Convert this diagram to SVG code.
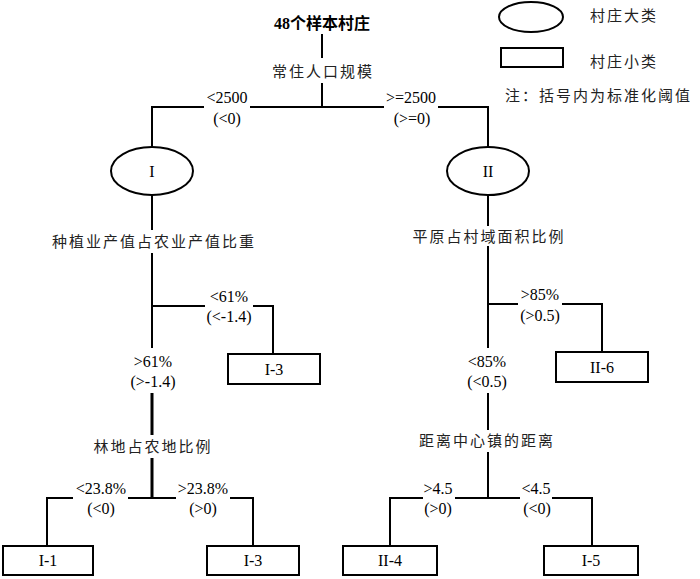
<svg xmlns="http://www.w3.org/2000/svg" width="700" height="579" viewBox="0 0 700 579">
<style>
.ln{stroke:#000;stroke-width:2;fill:none}
.thk{stroke:#000;stroke-width:3;fill:none}
.shp{stroke:#000;stroke-width:2;fill:#fff}
.cn{font-family:"Noto Sans CJK SC","Noto Sans CJK JP",sans-serif;font-size:15px;letter-spacing:2px;fill:#222;text-anchor:middle}
.cl{font-family:"Noto Sans CJK SC","Noto Sans CJK JP",sans-serif;font-size:15px;letter-spacing:2px;fill:#222}
.nm{font-family:"Liberation Serif","Times New Roman",serif;font-size:16px;fill:#000;text-anchor:middle}
.tt{font-family:"Liberation Serif","Noto Sans CJK SC",serif;font-size:16px;font-weight:bold;fill:#000;text-anchor:middle}
</style>
<rect width="700" height="579" fill="#fff"/>
<g id="connectors">
<path class="ln" d="M322,34V58M322,83V107"/>
<path class="ln" d="M152,147V107H204M250,107H384M438,107H488V147"/>
<path class="ln" d="M152,195V230M152,253V348M152,306H205M253,306H273V354"/>
<path class="thk" d="M152,393V435M152,458V498"/>
<path class="ln" d="M47,546V498H73M128,498H176M230,498H253V546"/>
<path class="ln" d="M488,195V226M488,246V348M488,304H518M562,304H602V352"/>
<path class="ln" d="M488,393V430M488,452V498M390,546V498H423M455,498H520M552,498H592V546"/>
</g>
<g id="root"><text class="tt" x="322" y="29">48个样本村庄</text></g>
<g id="split-pop"><text class="cn" x="323" y="77">常住人口规模</text></g>
<g id="lbl-lt2500"><text class="nm" x="227" y="103">&lt;2500</text><text class="nm" x="227" y="124">(&lt;0)</text></g>
<g id="lbl-ge2500"><text class="nm" x="411" y="103">&gt;=2500</text><text class="nm" x="412" y="124">(&gt;=0)</text></g>
<g id="class-I"><ellipse class="shp" cx="152" cy="171" rx="41" ry="24"/><text class="nm" x="152" y="177">I</text></g>
<g id="class-II"><ellipse class="shp" cx="488" cy="171" rx="41" ry="24"/><text class="nm" x="488" y="177">II</text></g>
<g id="split-plant"><text class="cn" x="154" y="247">种植业产值占农业产值比重</text></g>
<g id="lbl-lt61"><text class="nm" x="229" y="302">&lt;61%</text><text class="nm" x="229" y="322">(&lt;-1.4)</text></g>
<g id="lbl-gt61"><text class="nm" x="153" y="367">&gt;61%</text><text class="nm" x="153" y="387">(&gt;-1.4)</text></g>
<g id="leaf-I-3a"><rect class="shp" x="228" y="354" width="92" height="30"/><text class="nm" x="274" y="375">I-3</text></g>
<g id="split-forest"><text class="cn" x="153" y="452">林地占农地比例</text></g>
<g id="lbl-lt238"><text class="nm" x="101" y="494">&lt;23.8%</text><text class="nm" x="101" y="514">(&lt;0)</text></g>
<g id="lbl-gt238"><text class="nm" x="203" y="494">&gt;23.8%</text><text class="nm" x="203" y="514">(&gt;0)</text></g>
<g id="leaf-I-1"><rect class="shp" x="3" y="546" width="90" height="29"/><text class="nm" x="48" y="566">I-1</text></g>
<g id="leaf-I-3b"><rect class="shp" x="207" y="546" width="92" height="29"/><text class="nm" x="253" y="566">I-3</text></g>
<g id="split-plain"><text class="cn" x="489" y="242">平原占村域面积比例</text></g>
<g id="lbl-gt85"><text class="nm" x="540" y="300">&gt;85%</text><text class="nm" x="540" y="321">(&gt;0.5)</text></g>
<g id="lbl-lt85"><text class="nm" x="487" y="367">&lt;85%</text><text class="nm" x="487" y="387">(&lt;0.5)</text></g>
<g id="leaf-II-6"><rect class="shp" x="556" y="352" width="92" height="30"/><text class="nm" x="602" y="373">II-6</text></g>
<g id="split-dist"><text class="cn" x="487" y="446">距离中心镇的距离</text></g>
<g id="lbl-gt45"><text class="nm" x="438" y="494">&gt;4.5</text><text class="nm" x="438" y="514">(&gt;0)</text></g>
<g id="lbl-lt45"><text class="nm" x="536" y="494">&lt;4.5</text><text class="nm" x="537" y="514">(&lt;0)</text></g>
<g id="leaf-II-4"><rect class="shp" x="343" y="546" width="94" height="29"/><text class="nm" x="390" y="566">II-4</text></g>
<g id="leaf-I-5"><rect class="shp" x="544" y="546" width="94" height="29"/><text class="nm" x="591" y="566">I-5</text></g>
<g id="legend">
<ellipse class="shp" cx="531" cy="17" rx="32" ry="15"/>
<text class="cl" x="590" y="21">村庄大类</text>
<rect class="shp" x="501" y="48" width="62" height="19"/>
<text class="cl" x="590" y="67">村庄小类</text>
<text class="cl" x="505" y="101">注：括号内为标准化阈值</text>
</g>
</svg>
